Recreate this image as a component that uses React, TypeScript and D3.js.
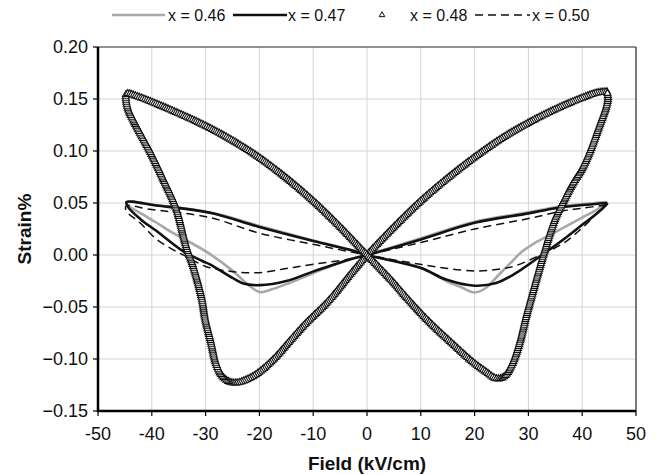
import React, { useEffect, useRef } from 'react';
import * as d3 from 'd3';

const W = 661;
const H = 475;

const xTicks = [-50, -40, -30, -20, -10, 0, 10, 20, 30, 40, 50];
const yTicks = [-0.15, -0.1, -0.05, 0, 0.05, 0.1, 0.15, 0.2];
const seriesLabels = ['x = 0.46', 'x = 0.47', 'x = 0.48', 'x = 0.50'];

// x = 0.46 (grey line): [field kV/cm, strain %]
const loop046: [number, number][] = [
  [44.6, 0.051], [40, 0.049], [35, 0.046], [30, 0.041], [20, 0.032], [10, 0.016], [0, 0.0],
  [-3.2, -0.004], [-9.8, -0.017], [-15, -0.028], [-17.7, -0.033], [-19.9, -0.0357], [-22, -0.029],
  [-24.9, -0.0155], [-29.5, 0.002], [-33, 0.0125], [-36, 0.021], [-39.1, 0.031], [-42, 0.04],
  [-44.5, 0.048], [-44.7, 0.0508], [-39.1, 0.0478], [-29.2, 0.041], [-20, 0.028], [-10, 0.014],
  [-3.2, 0.005], [0, 0.0], [9.9, -0.012], [14.7, -0.025], [17.5, -0.031], [20, -0.036], [22, -0.032],
  [24.5, -0.019], [27, -0.006], [28.5, 0.002], [31, 0.011], [35, 0.022], [40, 0.036], [42.5, 0.043],
  [44.6, 0.05],
];

// x = 0.47 (black line)
const loop047: [number, number][] = [
  [44.7, 0.05], [40, 0.048], [35, 0.045], [30, 0.04], [20, 0.031], [10, 0.015], [0, 0.0],
  [-3.2, -0.0043], [-9.8, -0.0155], [-15, -0.025], [-19.9, -0.029], [-23, -0.0275], [-25, -0.022],
  [-29.2, -0.009], [-30.5, -0.006], [-34.2, 0.0037], [-39.1, 0.023], [-42, 0.034], [-44.4, 0.046],
  [-44.7, 0.0508], [-39.1, 0.0476], [-29.2, 0.0406], [-20, 0.027], [-9.8, 0.0133], [-3.2, 0.005],
  [0, 0.0], [9.9, -0.0123], [14.7, -0.0236], [20, -0.0295], [24, -0.027], [27.5, -0.018], [32.5, 0.0],
  [36, 0.013], [40, 0.029], [42.5, 0.039], [44.5, 0.0485], [44.7, 0.05],
];

// x = 0.48 (triangles)
const loop048: [number, number][] = [
  [44.6, 0.157], [42.8, 0.156], [40, 0.151], [35, 0.14], [30, 0.127], [25, 0.112], [20, 0.094],
  [15, 0.074], [10, 0.052], [5, 0.027], [0, 0.0],
  [-3, -0.018], [-7.3, -0.045], [-11.6, -0.067], [-14.4, -0.083], [-17.3, -0.1], [-20.1, -0.113],
  [-22, -0.119], [-24.2, -0.123], [-25.6, -0.122], [-27.0, -0.116], [-28.1, -0.104], [-29.0, -0.084],
  [-30.1, -0.061], [-30.7, -0.042], [-32.3, -0.011], [-33.6, 0.008], [-35.5, 0.045], [-37.9, 0.073],
  [-40.2, 0.098], [-42.9, 0.124], [-44.4, 0.14], [-44.8, 0.15], [-44.7, 0.155],
  [-42.5, 0.152], [-40, 0.147], [-35, 0.136], [-30, 0.124], [-25, 0.11], [-20, 0.0935],
  [-15, 0.074], [-10, 0.052], [-5, 0.027], [0, 0.0], [5, -0.027], [7, -0.039], [11.3, -0.063],
  [15.6, -0.084], [19.9, -0.104], [22, -0.112], [24.1, -0.119], [25.5, -0.117], [26.9, -0.106],
  [28.4, -0.084], [29.5, -0.061], [30.6, -0.04], [32.8, 0.0], [35.0, 0.035], [36.6, 0.052],
  [38.2, 0.068], [40, 0.083], [41.5, 0.1], [43.2, 0.124], [44.5, 0.143], [44.8, 0.152], [44.6, 0.157],
];

// x = 0.50 (dashed line)
const loop050: [number, number][] = [
  [44.5, 0.048], [40, 0.045], [36, 0.042], [30, 0.035], [20, 0.025], [10, 0.012], [0, 0.0],
  [-3.4, -0.004], [-9.8, -0.0087], [-15, -0.013], [-20, -0.017], [-24.9, -0.016], [-30, -0.011],
  [-33, -0.003], [-36, 0.005], [-39.1, 0.015], [-42.2, 0.031], [-44.7, 0.042], [-44.8, 0.047],
  [-40.4, 0.044], [-29.2, 0.036], [-20, 0.021], [-9.8, 0.01], [0, 0.0], [9.9, -0.009], [15, -0.013],
  [20, -0.0154], [24, -0.014], [27.2, -0.011], [32.2, 0.0], [36.7, 0.012], [40.4, 0.028],
  [43.5, 0.044], [44.5, 0.048],
];

const FONT = '"Liberation Sans", Arial, sans-serif';

export default function App() {
  const ref = useRef<SVGSVGElement | null>(null);

  useEffect(() => {
    const svg = d3.select(ref.current);
    svg.selectAll('*').remove();

    const left = 98, right = 636, top = 47, bottom = 411;
    const x = d3.scaleLinear().domain([-50, 50]).range([left, right]);
    const y = d3.scaleLinear().domain([-0.15, 0.2]).range([bottom, top]);

    // grid
    const grid = svg.append('g');
    grid.selectAll('line.v').data(xTicks.filter((t) => t > -50 && t < 50)).enter().append('line')
      .attr('x1', (d) => x(d)).attr('x2', (d) => x(d)).attr('y1', top).attr('y2', bottom)
      .attr('stroke', '#d4d4d4').attr('stroke-width', 1);
    grid.selectAll('line.h').data(yTicks.filter((t) => t > -0.15 && t < 0.2)).enter().append('line')
      .attr('x1', left).attr('x2', right).attr('y1', (d) => y(d)).attr('y2', (d) => y(d))
      .attr('stroke', '#d4d4d4').attr('stroke-width', 1);

    // frame top/right
    svg.append('line').attr('x1', left).attr('x2', right).attr('y1', top).attr('y2', top)
      .attr('stroke', '#222').attr('stroke-width', 1.2);
    svg.append('line').attr('x1', right).attr('x2', right).attr('y1', top).attr('y2', bottom)
      .attr('stroke', '#222').attr('stroke-width', 1.2);

    const line = d3.line<[number, number]>()
      .x((d) => x(d[0])).y((d) => y(d[1]))
      .curve(d3.curveCatmullRom.alpha(0.5));

    const plot = svg.append('g');
    plot.append('path').attr('d', line(loop046)).attr('fill', 'none')
      .attr('stroke', '#a8a8a8').attr('stroke-width', 2.6).attr('stroke-linejoin', 'round');
    plot.append('path').attr('d', line(loop047)).attr('fill', 'none')
      .attr('stroke', '#111').attr('stroke-width', 2.6).attr('stroke-linejoin', 'round');
    plot.append('path').attr('d', line(loop050)).attr('fill', 'none')
      .attr('stroke', '#111').attr('stroke-width', 1.5).attr('stroke-dasharray', '8,5');

    // triangle series: markers along the curve through the read points
    const tri = plot.append('path').attr('d', line(loop048)).attr('fill', 'none').attr('stroke', 'none');
    const node = tri.node() as SVGPathElement;
    const L = node.getTotalLength();
    const pts: { x: number; y: number }[] = [];
    for (let s = 0; s <= L; s += 2.0) {
      const p = node.getPointAtLength(s);
      pts.push({ x: p.x, y: p.y });
    }
    const sym = d3.symbol().type(d3.symbolTriangle).size(21)();
    plot.append('g').selectAll('path').data(pts).enter().append('path')
      .attr('d', sym as string)
      .attr('transform', (d) => `translate(${d.x},${d.y})`)
      .attr('fill', '#fff').attr('stroke', '#111').attr('stroke-width', 1.1);

    // axes
    svg.append('line').attr('x1', left).attr('x2', left).attr('y1', top).attr('y2', bottom + 1)
      .attr('stroke', '#000').attr('stroke-width', 2.5);
    svg.append('line').attr('x1', left - 1).attr('x2', right).attr('y1', bottom).attr('y2', bottom)
      .attr('stroke', '#000').attr('stroke-width', 2.5);

    svg.selectAll('line.yt').data(yTicks).enter().append('line')
      .attr('x1', left - 5).attr('x2', left).attr('y1', (d) => y(d)).attr('y2', (d) => y(d))
      .attr('stroke', '#000').attr('stroke-width', 1.2);
    svg.selectAll('line.xt').data(xTicks).enter().append('line')
      .attr('x1', (d) => x(d)).attr('x2', (d) => x(d)).attr('y1', bottom).attr('y2', bottom + 5)
      .attr('stroke', '#000').attr('stroke-width', 1.2);

    svg.selectAll('text.yl').data(yTicks).enter().append('text')
      .attr('x', left - 10).attr('y', (d) => y(d)).attr('dy', '0.35em')
      .attr('text-anchor', 'end').attr('font-family', FONT).attr('font-size', 18).attr('fill', '#111')
      .text((d) => d3.format('.2f')(d));
    svg.selectAll('text.xl').data(xTicks).enter().append('text')
      .attr('x', (d) => x(d)).attr('y', 440)
      .attr('text-anchor', 'middle').attr('font-family', FONT).attr('font-size', 18).attr('fill', '#111')
      .text((d) => String(d));

    svg.append('text').attr('x', (left + right) / 2).attr('y', 470).attr('text-anchor', 'middle')
      .attr('font-family', FONT).attr('font-size', 19).attr('font-weight', 'bold').attr('fill', '#111')
      .text('Field (kV/cm)');
    svg.append('text').attr('transform', `translate(31,${(top + bottom) / 2}) rotate(-90)`)
      .attr('text-anchor', 'middle')
      .attr('font-family', FONT).attr('font-size', 19).attr('font-weight', 'bold').attr('fill', '#111')
      .text('Strain%');

    // legend
    const lg = svg.append('g');
    const ly = 15;
    lg.append('line').attr('x1', 112).attr('x2', 165).attr('y1', ly).attr('y2', ly)
      .attr('stroke', '#a8a8a8').attr('stroke-width', 2.6);
    lg.append('line').attr('x1', 233).attr('x2', 287).attr('y1', ly).attr('y2', ly)
      .attr('stroke', '#111').attr('stroke-width', 2.6);
    lg.append('path').attr('d', d3.symbol().type(d3.symbolTriangle).size(14)() as string)
      .attr('transform', `translate(382,${ly})`).attr('fill', '#fff').attr('stroke', '#111').attr('stroke-width', 1);
    lg.append('line').attr('x1', 475).attr('x2', 530).attr('y1', ly).attr('y2', ly)
      .attr('stroke', '#111').attr('stroke-width', 1.5).attr('stroke-dasharray', '8,5');
    const lx = [168, 288, 410, 532];
    lg.selectAll('text').data(seriesLabels).enter().append('text')
      .attr('x', (_d, i) => lx[i]).attr('y', ly).attr('dy', '0.35em')
      .attr('font-family', FONT).attr('font-size', 16).attr('fill', '#111')
      .text((d) => d);
  }, []);

  return (
    <svg ref={ref} width={W} height={H}
      style={{ position: 'absolute', left: 0, top: 0, background: '#fff' }} />
  );
}
